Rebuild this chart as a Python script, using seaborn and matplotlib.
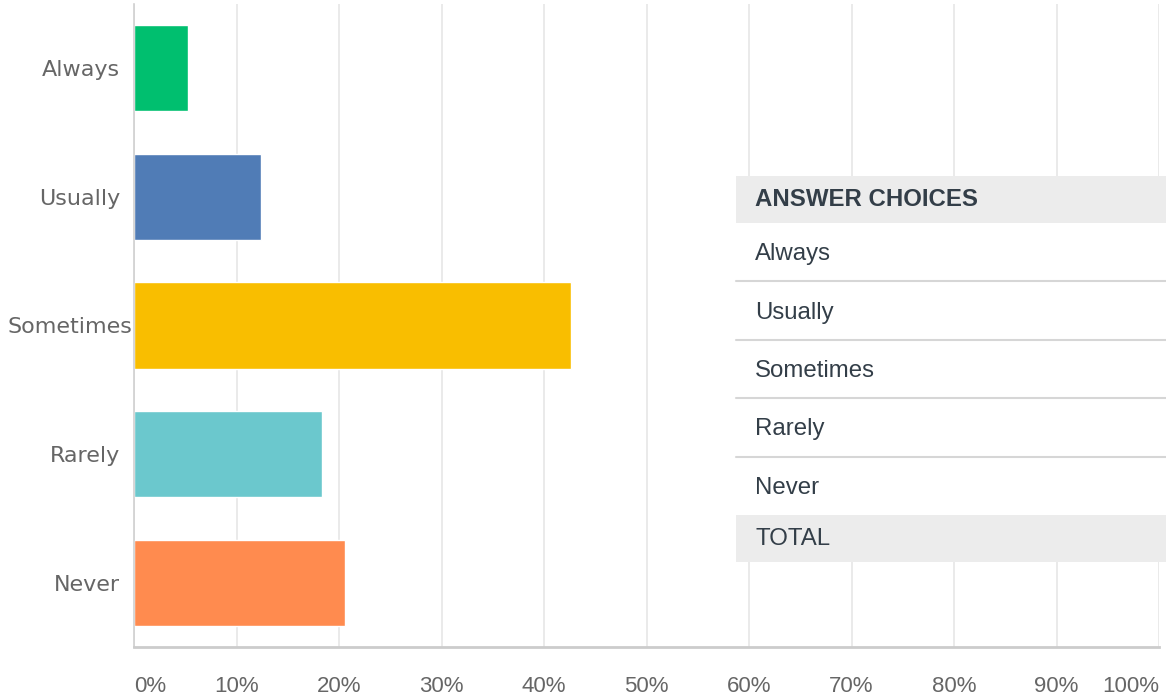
import matplotlib.pyplot as plt
import seaborn as sns
from matplotlib.lines import Line2D
from matplotlib.patches import Rectangle

categories = ["Always", "Usually", "Sometimes", "Rarely", "Never"]
percents = [5.3, 12.4, 42.6, 18.3, 20.6]
bar_colors = ["#00bf6f", "#507cb6", "#f9be00", "#6bc8cd", "#ff8b4f"]
x_ticks = [0, 10, 20, 30, 40, 50, 60, 70, 80, 90, 100]
x_tick_labels = [f"{t}%" for t in x_ticks]
table_header = "ANSWER CHOICES"
table_footer = "TOTAL"

W, H = 1166, 700

sns.set_theme(style="white")
plt.rcParams["font.family"] = ["DejaVu Sans"]

fig = plt.figure(figsize=(W / 100, H / 100), dpi=100)
ax = fig.add_axes([134 / W, 1 - 647 / H, (1159 - 134) / W, (647 - 4) / H])

sns.barplot(
    x=percents,
    y=categories,
    hue=categories,
    palette=bar_colors,
    orient="h",
    width=0.67,
    legend=False,
    saturation=1,
    ax=ax,
)

ax.set_xlim(0, 100)
ax.set_xticks(x_ticks)
ax.set_xticklabels(x_tick_labels, fontfamily="Liberation Sans", fontsize=16, color="#666666")
ax.set_xlabel("")
ax.set_ylabel("")
ax.tick_params(axis="x", length=0, pad=21)
ax.tick_params(axis="y", length=0, pad=10, labelsize=16, labelcolor="#666666")
xl = ax.get_xticklabels()
xl[0].set_ha("left")
xl[-1].set_ha("right")
ax.yaxis.get_major_ticks()[2].set_pad(1)

ax.grid(axis="x", color="#e6e6e6", linewidth=1.2)
ax.set_axisbelow(True)
for side in ["top", "right"]:
    ax.spines[side].set_visible(False)
ax.spines["left"].set_color("#d0d0d0")
ax.spines["left"].set_linewidth(1.2)
ax.spines["bottom"].set_color("#cccccc")
ax.spines["bottom"].set_linewidth(2)
ax.spines["bottom"].set_bounds(0, 100)


def fy(py):
    return 1 - py / H


tx0, tx1 = 736 / W, 1.0
txt = 755 / W
text_color = "#333e48"
table_fs = 17.3

# table: header band, white body, footer band
fig.add_artist(Rectangle((tx0, fy(223)), tx1 - tx0, (223 - 176) / H,
                         transform=fig.transFigure, facecolor="#ececec", edgecolor="none", zorder=2))
fig.add_artist(Rectangle((tx0, fy(515)), tx1 - tx0, (515 - 223) / H,
                         transform=fig.transFigure, facecolor="white", edgecolor="none", zorder=2))
fig.add_artist(Rectangle((tx0, fy(562)), tx1 - tx0, (562 - 515) / H,
                         transform=fig.transFigure, facecolor="#ececec", edgecolor="none", zorder=2))
fig.text(txt, fy(200), table_header, fontfamily="Liberation Sans", fontweight="bold",
         fontsize=table_fs, color=text_color, va="center", ha="left", zorder=3)

row_top = 223
row_h = (515 - 223) / len(categories)
for i, name in enumerate(categories):
    y0 = row_top + i * row_h
    fig.text(txt, fy(y0 + row_h / 2 + 2), name, fontfamily="Liberation Sans",
             fontsize=table_fs, color=text_color, va="center", ha="left", zorder=3)
    if i < len(categories) - 1:
        fig.add_artist(Line2D([tx0, tx1], [fy(y0 + row_h)] * 2, transform=fig.transFigure,
                              color="#d6d6d6", linewidth=1.5, zorder=3))

fig.text(txt, fy(539), table_footer, fontfamily="Liberation Sans",
         fontsize=table_fs, color=text_color, va="center", ha="left", zorder=3)

fig.savefig("out.png", dpi=100, facecolor="white")
